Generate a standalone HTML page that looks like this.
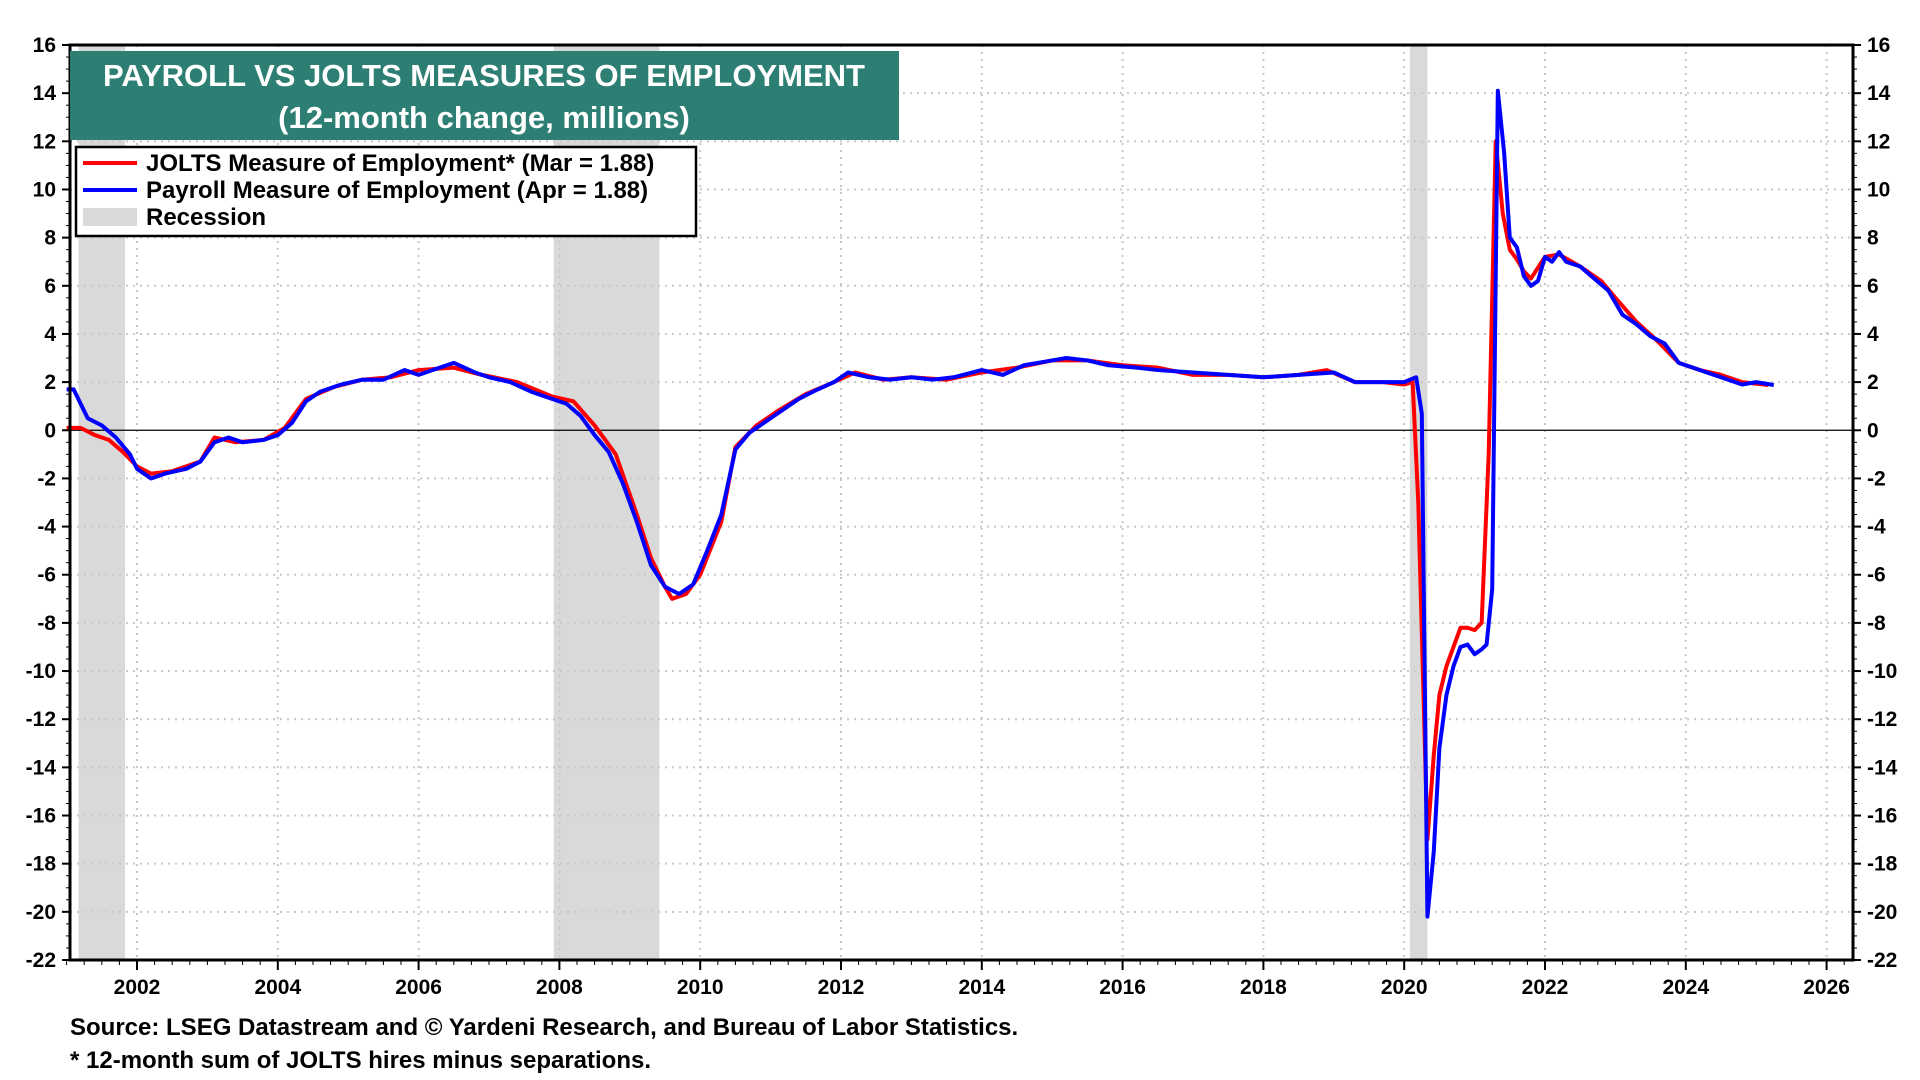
<!DOCTYPE html>
<html><head><meta charset="utf-8">
<style>
body{margin:0;background:#fff;}
svg{display:block;font-family:"Liberation Sans",Arial,sans-serif;font-weight:bold;}
</style></head>
<body>
<svg id="chart" width="1920" height="1080" viewBox="0 0 1920 1080" xmlns="http://www.w3.org/2000/svg">
<g id="rec"></g>
<g id="grid"></g>
<g id="series"></g>
<g id="axes"></g>
<g>
<rect x="70" y="51" width="829" height="89" fill="#2e7f73"/>
<text x="484" y="86" text-anchor="middle" fill="#fff" font-size="31">PAYROLL VS JOLTS MEASURES OF EMPLOYMENT</text>
<text x="484" y="128" text-anchor="middle" fill="#fff" font-size="31">(12-month change, millions)</text>
</g>
<g>
<rect x="76" y="147" width="620" height="89" fill="#fff" stroke="#000" stroke-width="2.5"/>
<g><line x1="83" y1="163" x2="137" y2="163" stroke="#f00" stroke-width="4"/><text x="146" y="171" font-size="24">JOLTS Measure of Employment* (Mar = 1.88)</text></g>
<g><line x1="83" y1="190" x2="137" y2="190" stroke="#00f" stroke-width="4"/><text x="146" y="198" font-size="24">Payroll Measure of Employment (Apr = 1.88)</text></g>
<g><rect x="83" y="208" width="54" height="18" fill="#d9d9d9"/><text x="146" y="225" font-size="24">Recession</text></g>
</g>
<text x="70" y="1035" font-size="24">Source: LSEG Datastream and © Yardeni Research, and Bureau of Labor Statistics.</text>
<text x="70" y="1068" font-size="24">* 12-month sum of JOLTS hires minus separations.</text>
</svg>
<script>
const yTicks=[16,14,12,10,8,6,4,2,0,-2,-4,-6,-8,-10,-12,-14,-16,-18,-20,-22];
const xTickYears=[2002,2004,2006,2008,2010,2012,2014,2016,2018,2020,2022,2024,2026];
const recStart=[2001.17,2007.92,2020.08];
const recEnd=[2001.83,2009.42,2020.33];
const payDates=[2001.0,2001.1,2001.3,2001.5,2001.7,2001.9,2002.0,2002.2,2002.4,2002.7,2002.9,2003.1,2003.3,2003.5,2003.8,2004.0,2004.2,2004.4,2004.6,2004.9,2005.2,2005.5,2005.8,2006.0,2006.3,2006.5,2006.8,2007.0,2007.3,2007.6,2007.9,2008.1,2008.3,2008.5,2008.7,2008.9,2009.1,2009.3,2009.5,2009.7,2009.9,2010.1,2010.3,2010.5,2010.7,2010.9,2011.1,2011.4,2011.6,2011.9,2012.1,2012.4,2012.7,2013.0,2013.3,2013.6,2014.0,2014.3,2014.6,2015.0,2015.2,2015.5,2015.8,2016.2,2016.5,2017.0,2017.5,2018.0,2018.5,2019.0,2019.3,2019.6,2020.0,2020.17,2020.25,2020.33,2020.42,2020.5,2020.6,2020.7,2020.8,2020.9,2021.0,2021.1,2021.17,2021.25,2021.33,2021.42,2021.5,2021.6,2021.7,2021.8,2021.9,2022.0,2022.1,2022.2,2022.3,2022.5,2022.7,2022.9,2023.1,2023.3,2023.5,2023.7,2023.9,2024.1,2024.3,2024.5,2024.8,2025.0,2025.25];
const payVals=[1.7,1.7,0.5,0.2,-0.3,-1.0,-1.6,-2.0,-1.8,-1.6,-1.3,-0.5,-0.3,-0.5,-0.4,-0.2,0.3,1.2,1.6,1.9,2.1,2.1,2.5,2.3,2.6,2.8,2.4,2.2,2.0,1.6,1.3,1.1,0.6,-0.2,-0.9,-2.2,-3.8,-5.6,-6.5,-6.8,-6.4,-5.0,-3.5,-0.8,-0.1,0.3,0.7,1.3,1.6,2.0,2.4,2.2,2.1,2.2,2.1,2.2,2.5,2.3,2.7,2.9,3.0,2.9,2.7,2.6,2.5,2.4,2.3,2.2,2.3,2.4,2.0,2.0,2.0,2.2,0.7,-20.2,-17.5,-13.2,-11.0,-9.8,-9.0,-8.9,-9.3,-9.1,-8.9,-6.6,14.1,11.5,8.0,7.6,6.4,6.0,6.2,7.2,7.0,7.4,7.0,6.8,6.3,5.8,4.8,4.4,3.9,3.6,2.8,2.6,2.4,2.2,1.9,2.0,1.88];
const joltsDates=[2001.0,2001.2,2001.4,2001.6,2001.8,2002.0,2002.2,2002.5,2002.9,2003.1,2003.4,2003.8,2004.1,2004.4,2004.8,2005.2,2005.6,2006.0,2006.5,2006.9,2007.4,2007.9,2008.2,2008.5,2008.8,2009.1,2009.3,2009.5,2009.6,2009.8,2010.0,2010.3,2010.5,2010.8,2011.1,2011.5,2011.9,2012.2,2012.6,2013.0,2013.5,2014.0,2014.5,2015.0,2015.5,2016.0,2016.5,2017.0,2017.5,2018.0,2018.5,2018.9,2019.3,2019.7,2020.0,2020.12,2020.2,2020.33,2020.42,2020.5,2020.6,2020.7,2020.8,2020.9,2021.0,2021.1,2021.2,2021.3,2021.4,2021.5,2021.6,2021.7,2021.8,2022.0,2022.2,2022.5,2022.8,2023.0,2023.3,2023.6,2023.9,2024.2,2024.5,2024.8,2025.17];
const joltsVals=[0.1,0.1,-0.2,-0.4,-0.9,-1.5,-1.8,-1.7,-1.3,-0.3,-0.5,-0.4,0.1,1.3,1.8,2.1,2.2,2.5,2.6,2.3,2.0,1.4,1.2,0.2,-1.0,-3.5,-5.3,-6.5,-7.0,-6.8,-6.0,-3.8,-0.7,0.2,0.8,1.5,2.0,2.4,2.1,2.2,2.1,2.4,2.6,2.9,2.9,2.7,2.6,2.3,2.3,2.2,2.3,2.5,2.0,2.0,1.9,2.0,-3.0,-17.0,-13.5,-11.0,-9.8,-9.0,-8.2,-8.2,-8.3,-8.0,-1.0,12.0,9.0,7.5,7.1,6.6,6.3,7.2,7.3,6.8,6.2,5.5,4.5,3.7,2.8,2.5,2.3,2.0,1.88];

const NS='http://www.w3.org/2000/svg';
const L=70,R=1853,T=45,B=960;
const X0=2002,PX0=137,PPY=70.4;
const xs=y=>PX0+(y-X0)*PPY;
const ys=v=>B-(v+22)*(B-T)/38;
function mk(tag,attrs,parent){const e=document.createElementNS(NS,tag);for(const k in attrs)e.setAttribute(k,attrs[k]);parent.appendChild(e);return e;}
const rec=document.getElementById('rec'),grid=document.getElementById('grid'),ser=document.getElementById('series'),ax=document.getElementById('axes');
for(let i=0;i<recStart.length;i++){
  const r=mk('rect',{x:xs(recStart[i]),y:T,width:xs(recEnd[i])-xs(recStart[i]),height:B-T,fill:'#d9d9d9'},rec);
  
  
}
yTicks.forEach(v=>{
  if(v!==0&&v!==16&&v!==-22){const g=mk('line',{x1:L,x2:R,y1:ys(v),y2:ys(v),stroke:'#c8c8c8','stroke-width':2,'stroke-dasharray':'2 5'},grid);
  
  }
  const t1=mk('text',{x:L-14,y:ys(v)+7,'text-anchor':'end','font-size':21},ax);t1.textContent=v;
  
  
  const t2=mk('text',{x:R+14,y:ys(v)+7,'text-anchor':'start','font-size':21},ax);t2.textContent=v;
  
  
  mk('line',{x1:L-8,x2:L,y1:ys(v),y2:ys(v),stroke:'#000','stroke-width':2},ax);
  mk('line',{x1:R,x2:R+8,y1:ys(v),y2:ys(v),stroke:'#000','stroke-width':2},ax);
});
for(let v=-22;v<=16;v+=0.5){mk('line',{x1:L-4,x2:L,y1:ys(v),y2:ys(v),stroke:'#000','stroke-width':1},ax);mk('line',{x1:R,x2:R+4,y1:ys(v),y2:ys(v),stroke:'#000','stroke-width':1},ax);}
xTickYears.forEach(y=>{
  const g=mk('line',{x1:xs(y),x2:xs(y),y1:T,y2:B,stroke:'#c8c8c8','stroke-width':2,'stroke-dasharray':'2 5'},grid);
  
  
  const t=mk('text',{x:xs(y),y:B+34,'text-anchor':'middle','font-size':21},ax);t.textContent=y;
  
  
  mk('line',{x1:xs(y),x2:xs(y),y1:B,y2:B+10,stroke:'#000','stroke-width':2},ax);
});
for(let y=2001;y<2026.35;y+=0.25){mk('line',{x1:xs(y),x2:xs(y),y1:B,y2:B+5,stroke:'#000','stroke-width':1},ax);}
const z=mk('line',{x1:L,x2:R,y1:ys(0),y2:ys(0),stroke:'#000','stroke-width':1.2},grid);


const jl=mk('polyline',{points:joltsDates.map((d,i)=>xs(d)+','+ys(joltsVals[i])).join(' '),fill:'none',stroke:'#f00','stroke-width':4,'stroke-linejoin':'round'},ser);


const pl=mk('polyline',{points:payDates.map((d,i)=>xs(d)+','+ys(payVals[i])).join(' '),fill:'none',stroke:'#00f','stroke-width':4,'stroke-linejoin':'round'},ser);


const fr=mk('rect',{x:L,y:T,width:R-L,height:B-T,fill:'none',stroke:'#000','stroke-width':3},ax);


</script>
</body></html>
